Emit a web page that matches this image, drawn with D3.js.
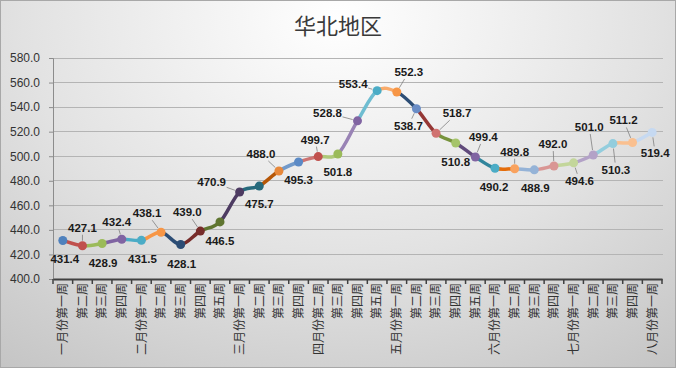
<!DOCTYPE html>
<html><head><meta charset="utf-8">
<script src="https://cdn.jsdelivr.net/npm/d3@7/dist/d3.min.js"></script>
<style>html,body{margin:0;padding:0;background:#fff;}svg{display:block;}</style>
</head><body>
<script>
const categories = ["一月份第一周","第二周","第三周","第四周",
  "二月份第一周","第二周","第三周","第四周","第五周",
  "三月份第一周","第二周","第三周","第四周",
  "四月份第二周","第三周","第四周","第五周",
  "五月份第一周","第二周","第三周","第四周","第五周",
  "六月份第一周","第二周","第三周","第四周",
  "七月份第一周","第二周","第三周","第四周",
  "八月份第一周"];
const values = [431.4,427.1,428.9,432.4,431.5,438.1,428.1,439.0,446.5,470.9,475.7,488.0,495.3,499.7,501.8,528.8,553.4,552.3,538.7,518.7,510.8,499.4,490.2,489.8,488.9,492.0,494.6,501.0,510.3,511.2,519.4];
const yTicks = [400,420,440,460,480,500,520,540,560,580];
const title = "华北地区";

// styling: segment colour (segment ending at point i) and marker colour
const segColors = [null,"#C0504D","#9BBB59","#8064A2","#4BACC6","#F79646","#2C4D75","#772C2A","#5F7530","#4D3B62","#276A7C","#B65708","#729ACA","#CD7371","#AFC97A","#9983B5","#6FBDD1","#F9AB6B","#2C4D75","#953735","#77933C","#604A7B","#31859C","#E46C0A","#95B3D7","#D99694","#C3D69B","#B3A2C7","#93CDDD","#FAC090","#C6D9F1"];
const markColors = ["#4F81BD","#C0504D","#9BBB59","#8064A2","#4BACC6","#F79646","#2C4D75","#772C2A","#5F7530","#4D3B62","#276A7C","#E8883A","#5B8AC6","#C0504D","#9BBB59","#8064A2","#4BACC6","#F79646","#6A8DC6","#D07270","#A5C46A","#8064A2","#4BACC6","#F9A25E","#95B3D7","#D99694","#C3D69B","#B3A2C7","#93CDDD","#FAC090","#C6D9F1"];
// label placement offsets (px) relative to point, and leader flags
const labelOffsets = [[2,19],[0,-18],[1,19],[-5,-17],[1,19],[-14,-19],[1,19],[-13,-19],[0,19],[-28,-10],[0,18],[-18,-17],[0,18],[-3,-17],[0,18],[-30,-8],[-24,-7],[12,-20],[-8,17],[21,-20],[0,19],[8,-20],[-1,19],[0,-17],[1,18],[-1,-22],[6,18],[-4,-28],[3,26],[-9,-22],[3,21]];
const leaders = [0,1,0,1,0,1,0,1,0,1,0,1,0,1,0,1,1,1,1,1,0,1,0,1,0,1,1,1,1,1,1];

const W = 676, H = 368;
const svg = d3.select("body").append("svg").attr("width", W).attr("height", H);
const defs = svg.append("defs");
const rg = defs.append("radialGradient").attr("id","bg").attr("cx","50%").attr("cy","5%").attr("r","85%")
  .attr("gradientTransform","translate(0.5,0.05) scale(1,1.4) translate(-0.5,-0.05)");
rg.append("stop").attr("offset","0%").attr("stop-color","#ffffff");
rg.append("stop").attr("offset","55%").attr("stop-color","#e2e2e2");
rg.append("stop").attr("offset","100%").attr("stop-color","#c4c4c4");
svg.append("rect").attr("x",0.5).attr("y",0.5).attr("width",W-1).attr("height",H-1)
  .attr("fill","url(#bg)").attr("stroke","#a8a8a8");

const x = d3.scaleBand().domain(d3.range(categories.length)).range([53, 662]).padding(0);
const y = d3.scaleLinear().domain([400,580]).range([279, 58]);
const cx = i => x(i) + x.bandwidth()/2;

// title
svg.append("text").attr("x", 338).attr("y", 34).attr("text-anchor","middle")
  .attr("font-family","'Noto Sans CJK SC'").attr("font-size",22).attr("fill","#3a3a3a").text(title);

// gridlines
svg.append("g").selectAll("line").data(yTicks.filter(t=>t>400)).join("line")
  .attr("x1",53).attr("x2",663).attr("y1",d=>y(d)).attr("y2",d=>y(d))
  .attr("stroke","#b4b4b4").attr("stroke-width",1).attr("shape-rendering","crispEdges");

// y axis
const yAxis = svg.append("g").attr("transform","translate(53,0)")
  .call(d3.axisLeft(y).tickValues(yTicks).tickFormat(d3.format(".1f")).tickSize(4).tickPadding(9));
yAxis.select(".domain").attr("stroke","#8c8c8c");
yAxis.selectAll(".tick line").attr("stroke","#8c8c8c");
yAxis.selectAll("text").attr("font-family","'Liberation Sans', Arial, sans-serif").attr("font-size",12).attr("fill","#333");

// x axis
const xAxis = svg.append("g").attr("transform","translate(0,279)")
  .call(d3.axisBottom(x).tickSize(0).tickFormat(i=>categories[i]));
xAxis.select(".domain").attr("stroke","#404040").attr("stroke-width",2);
xAxis.selectAll(".tick text")
  .attr("font-family","'Noto Sans CJK SC'").attr("font-size",12).attr("fill","#333")
  .attr("text-anchor","end").attr("transform","rotate(-90)")
  .attr("x",-4).attr("y",0).attr("dy","0.36em");
svg.append("g").selectAll("line").data(d3.range(categories.length+1)).join("line")
  .attr("x1",i=>53 + i*x.bandwidth()).attr("x2",i=>53 + i*x.bandwidth())
  .attr("y1",279).attr("y2",284).attr("stroke","#404040").attr("stroke-width",1.5);

// smooth line segments (Catmull-Rom), each coloured separately
const pts = values.map((v,i)=>[cx(i), y(v)]);
const segG = svg.append("g");
for (let i=1;i<pts.length;i++){
  const p0 = pts[Math.max(0,i-2)], p1 = pts[i-1], p2 = pts[i], p3 = pts[Math.min(pts.length-1,i+1)];
  const c1 = [p1[0] + (p2[0]-p0[0])/6, p1[1] + (p2[1]-p0[1])/6];
  const c2 = [p2[0] - (p3[0]-p1[0])/6, p2[1] - (p3[1]-p1[1])/6];
  const path = d3.path();
  path.moveTo(p1[0],p1[1]);
  path.bezierCurveTo(c1[0],c1[1],c2[0],c2[1],p2[0],p2[1]);
  segG.append("path").attr("d",path.toString()).attr("fill","none")
    .attr("stroke",segColors[i]).attr("stroke-width",3.5).attr("stroke-linecap","round");
}

// markers
svg.append("g").selectAll("circle").data(values).join("circle")
  .attr("cx",(d,i)=>cx(i)).attr("cy",d=>y(d)).attr("r",4.5)
  .attr("fill",(d,i)=>markColors[i]);

// leader lines
const lw = 28, lh = 12;
const leadG = svg.append("g");
values.forEach((v,i)=>{
  if(!leaders[i]) return;
  const px = cx(i), py = y(v);
  const lx = px + labelOffsets[i][0], ly = py + labelOffsets[i][1];
  const dx = px - lx, dy = py - ly;
  // point on label box edge toward point
  const t = Math.min(Math.abs(dx) > 0 ? (lw/2+1)/Math.abs(dx) : Infinity, Math.abs(dy) > 0 ? (lh/2+1)/Math.abs(dy) : Infinity);
  const sx = lx + dx*t, sy = ly + dy*t;
  const d = Math.hypot(dx,dy);
  const ex = px - dx/d*5, ey = py - dy/d*5;
  if (Math.hypot(ex-sx, ey-sy) < 2 || t >= 1) return;
  leadG.append("line").attr("x1",sx).attr("y1",sy).attr("x2",ex).attr("y2",ey)
    .attr("stroke","#808080").attr("stroke-width",0.8);
});

// data labels
svg.append("g").selectAll("text").data(values).join("text")
  .attr("x",(d,i)=>cx(i)+labelOffsets[i][0]).attr("y",(d,i)=>y(d)+labelOffsets[i][1])
  .attr("dy","0.35em").attr("text-anchor","middle")
  .attr("font-family","'Liberation Sans', Arial, sans-serif").attr("font-weight","bold")
  .attr("font-size",11.5).attr("fill","#1a1a1a").text(d=>d3.format(".1f")(d));
</script>
</body></html>
